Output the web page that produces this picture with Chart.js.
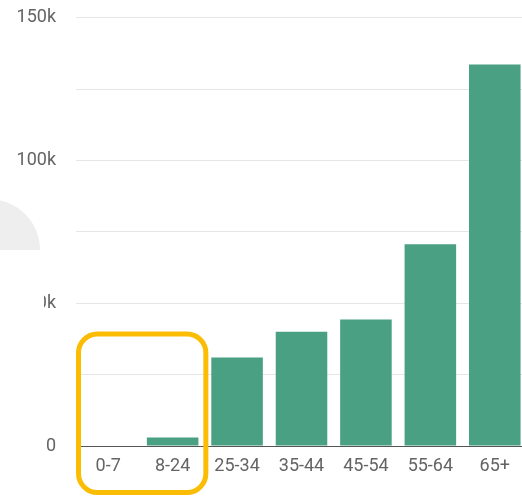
<!DOCTYPE html>
<html>
<head>
<meta charset="utf-8">
<script src="https://cdn.jsdelivr.net/npm/chart.js@4/dist/chart.umd.min.js"></script>
<style>
  html, body { margin: 0; padding: 0; background: #fff; overflow: hidden; }
  #wrap { position: relative; width: 527px; height: 509px; margin-top: -13px; }
</style>
</head>
<body>
<div id="wrap"><canvas id="c" width="527" height="509"></canvas></div>
<script>
// Age groups and their counts
const ageGroups = ['0-7', '8-24', '25-34', '35-44', '45-54', '55-64', '65+'];
const counts = [0, 3000, 31000, 40000, 44300, 70700, 133600];
// Value axis: grid every 25k, labels every 50k
const yMax = 150000;
const gridStep = 25000;
const labelStep = 50000;

const BAR = '#49a083';
const TEXT = '#646464';
const FONT = 'Roboto, "Noto Sans", sans-serif';
const SHIFT = 13; // canvas is offset upward by this many pixels

// Soft grey backdrop shape on the left and the highlight frame around the youngest groups
const decorations = {
  id: 'decorations',
  beforeDraw(chart) {
    const ctx = chart.ctx;
    ctx.save();
    // grey quarter disc
    ctx.fillStyle = '#eeeeee';
    ctx.beginPath();
    ctx.rect(0, 150 + SHIFT, 60, 100);
    ctx.clip();
    ctx.beginPath();
    ctx.arc(-11, 250 + SHIFT, 51, 0, Math.PI * 2);
    ctx.fill();
    ctx.restore();
  },
  afterDraw(chart) {
    const ctx = chart.ctx;
    const x = chart.scales.x;
    const y50 = chart.scales.y.getPixelForValue(50000);
    ctx.save();
    // white patch partially hiding the 50k label
    ctx.fillStyle = '#ffffff';
    ctx.fillRect(0, y50 - 13, 44, 26);
    // rounded highlight frame around the first two groups
    const left = x.getPixelForValue(0) - x.width / ageGroups.length / 2 + 2.5;
    const right = x.getPixelForValue(1) + x.width / ageGroups.length / 2 + 1;
    const top = 334 + SHIFT, bottom = 492.5 + SHIFT, r = 19;
    ctx.strokeStyle = '#fbbc04';
    ctx.lineWidth = 5;
    ctx.beginPath();
    ctx.roundRect(left, top, right - left, bottom - top, r);
    ctx.stroke();
    ctx.restore();
  }
};

new Chart(document.getElementById('c'), {
  type: 'bar',
  data: {
    labels: ageGroups,
    datasets: [{
      data: counts,
      backgroundColor: BAR,
      borderWidth: 0,
      categoryPercentage: 0.8,
      barPercentage: 1.0
    }]
  },
  options: {
    responsive: false,
    animation: false,
    events: [],
    layout: { padding: { top: 5, right: 0, left: 0, bottom: 0 } },
    plugins: { legend: { display: false }, tooltip: { enabled: false } },
    scales: {
      x: {
        grid: { display: false, drawTicks: false },
        border: { display: true, color: '#555555', width: 1 },
        ticks: { color: TEXT, font: { family: FONT, size: 18 }, padding: 10, maxRotation: 0, autoSkip: false },
        afterFit(s) { s.height = 50; }
      },
      y: {
        min: 0,
        max: yMax,
        grid: { color: '#e6e6e6', lineWidth: 1, drawTicks: false },
        border: { display: false },
        ticks: {
          stepSize: gridStep,
          color: TEXT,
          font: { family: FONT, size: 18 },
          padding: 20,
          callback(v) {
            if (v % labelStep !== 0) return '';
            return v === 0 ? '0' : (v / 1000) + 'k';
          }
        },
        afterFit(s) { s.width = 76; }
      }
    }
  },
  plugins: [decorations]
});
</script>
</body>
</html>
